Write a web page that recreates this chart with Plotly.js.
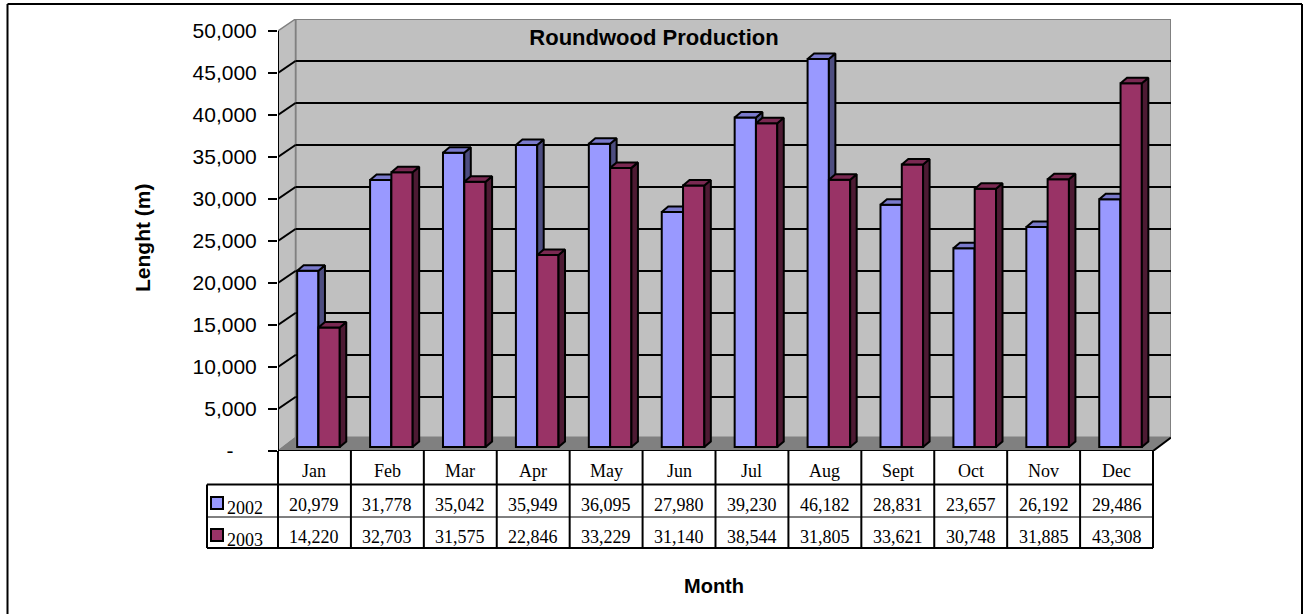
<!DOCTYPE html>
<html>
<head>
<meta charset="utf-8">
<script src="https://cdn.plot.ly/plotly-3.0.1.min.js"></script>
<style>html,body{margin:0;padding:0;background:#fff}#c{width:1304px;height:614px}</style>
</head>
<body>
<div id="c"></div>
<script>
const months = ["Jan","Feb","Mar","Apr","May","Jun","Jul","Aug","Sept","Oct","Nov","Dec"];
const series2002 = [20979,31778,35042,35949,36095,27980,39230,46182,28831,23657,26192,29486];
const series2003 = [14220,32703,31575,22846,33229,31140,38544,31805,33621,30748,31885,43308];
const yTicks = [0,5000,10000,15000,20000,25000,30000,35000,40000,45000,50000];
const yTickLabels = ["-&nbsp;&nbsp;&nbsp;&nbsp;","5,000","10,000","15,000","20,000","25,000","30,000","35,000","40,000","45,000","50,000"];

const W=1304,H=614,L=278,R=1171,T=19,B=451,CAT=875/12,UNIT=420/50000;
const xu=p=>p/CAT, yu=p=>p/UNIT;
const X=p=>(p-L)/(R-L), Y=p=>(B-p)/(B-T);
const wallDx=xu(17.5), wallDy=yu(12), barW=xu(21.3), barDx=xu(6.5), barDy=yu(5.5), baseX=xu(4), baseY=yu(4);
const xMax=(R-L)/CAT, yMax=(B-T)/UNIT;
const fmt=v=>v.toLocaleString('en-US');

function frontX(i,s){return i+0.5+baseX+(s===0?-barW/2:barW/2);}
function faces(vals,s,kind){
  const xs=[],ys=[];
  vals.forEach((v,i)=>{
    const l=frontX(i,s)-barW/2,r=l+barW,t=baseY+v;
    if(kind==='top'){xs.push(l,l+barDx,r+barDx,r,l,null);ys.push(t,t+barDy,t+barDy,t,t,null);}
    else{xs.push(r,r+barDx,r+barDx,r,r,null);ys.push(baseY,baseY+barDy,t+barDy,t,baseY,null);}
  });
  return {x:xs,y:ys};
}
function barTrace(vals,s,color,ax){
  return {type:'bar',name:String(2002+s),x:vals.map((_,i)=>frontX(i,s)),y:vals,base:vals.map(()=>baseY),width:vals.map(()=>barW),
    marker:{color:color,line:{color:'#000',width:2}},xaxis:'x'+ax,yaxis:'y'+ax,showlegend:false,hoverinfo:'skip'};
}
function faceTrace(vals,s,kind,color,ax){
  const f=faces(vals,s,kind);
  return {type:'scatter',mode:'lines',x:f.x,y:f.y,fill:'toself',fillcolor:color,line:{color:'#000',width:2},
    xaxis:'x'+ax,yaxis:'y'+ax,showlegend:false,hoverinfo:'skip'};
}
const traces=[
  barTrace(series2002,0,'#9999FF',''),
  faceTrace(series2002,0,'side','#4D4D80',''),
  faceTrace(series2002,0,'top','#7A7ACC',''),
  barTrace(series2003,1,'#993366','2'),
  faceTrace(series2003,1,'side','#4D1A33','2'),
  faceTrace(series2003,1,'top','#7A2952','2')
];

const shapes=[];
const seg=(x0,y0,x1,y1,c,w,ref)=>shapes.push({type:'line',layer:'below',xref:ref?'x':'paper',yref:ref?'y':'paper',x0,y0,x1,y1,line:{color:c,width:w}});
const poly=(d,fill,c,w)=>shapes.push({type:'path',layer:'below',xref:'x',yref:'y',path:d,fillcolor:fill,line:{color:c,width:w}});
const maxV=50000,wx=wallDx,wy=wallDy,floorY=yu(13.5),xEnd=months.length;
// walls and floor
poly(`M${wx},${floorY}L${wx},${maxV+wy}L${xMax},${maxV+wy}L${xMax},${floorY}Z`,'#C0C0C0','#808080',2);
poly(`M0,0L0,${maxV}L${wx},${maxV+wy}L${wx},${floorY}Z`,'#C0C0C0','#808080',1.5);
poly(`M0,0L${wx},${floorY}L${xMax},${floorY}L${xEnd},0Z`,'#808080','#808080',1);
yTicks.slice(1,-1).forEach(v=>{
  seg(wx,v+wy,xMax,v+wy,'#000',2,true);
  seg(0,v,wx,v+wy,'#000',2,true);
});
seg(xEnd,0,xMax,floorY,'#000',2,true);
seg(0,0,0,maxV,'#000',2,true);
seg(0,0,xEnd,0,'#000',2,true);
// outer frame
seg(X(7.5),Y(4),X(7.5),Y(614),'#000',2);
seg(X(7.5),Y(4),X(1302),Y(4),'#000',2);
seg(X(1302),Y(4),X(1302),Y(614),'#000',2);
// data table grid
const colX=i=>L+i*CAT;
months.forEach((_,i)=>{seg(X(colX(i)),Y(451),X(colX(i)),Y(548),'#000',2);});
seg(X(colX(12)),Y(451),X(colX(12)),Y(548),'#000',2);
seg(X(207),Y(484.5),X(colX(12)),Y(484.5),'#000',2);
seg(X(207),Y(517),X(colX(12)),Y(517),'#000',1);
seg(X(207),Y(548),X(colX(12)),Y(548),'#000',2);
seg(X(207),Y(484.5),X(207),Y(548),'#000',2);
// legend keys
[[497,'#9999FF'],[529,'#993366']].forEach(([y,c])=>shapes.push({type:'rect',layer:'below',xref:'paper',yref:'paper',x0:X(211),x1:X(223),y0:Y(y+12),y1:Y(y),fillcolor:c,line:{color:'#000',width:2}}));

const serif={family:'"Liberation Serif",serif',size:18,color:'#000'};
const sans='"Liberation Sans",Arial,sans-serif';
const anns=[];
const cell=(text,i,yp)=>anns.push({text,xref:'x',yref:'paper',x:i+0.5,y:Y(yp),showarrow:false,xanchor:'center',yanchor:'middle',font:serif});
months.forEach((m,i)=>{cell(m,i,471);cell(fmt(series2002[i]),i,505);cell(fmt(series2003[i]),i,537);});
[['2002',508],['2003',540]].forEach(([t,y])=>anns.push({text:t,xref:'paper',yref:'paper',x:X(225),y:Y(y),showarrow:false,xanchor:'left',yanchor:'middle',font:serif}));
anns.push({text:'<b>Month</b>',xref:'paper',yref:'paper',x:X(714),y:Y(586),showarrow:false,xanchor:'center',yanchor:'middle',font:{family:sans,size:20,color:'#000'}});
anns.push({text:'<b>Lenght (m)</b>',xref:'paper',yref:'paper',x:X(142),y:Y(238),textangle:-90,showarrow:false,xanchor:'center',yanchor:'middle',font:{family:sans,size:21,color:'#000'}});

const hidden={showgrid:false,zeroline:false,showline:false,showticklabels:false,ticks:''};
const layout={
  width:W,height:H,paper_bgcolor:'#fff',plot_bgcolor:'rgba(0,0,0,0)',showlegend:false,barmode:'overlay',
  margin:{l:L,r:W-R,t:T,b:H-B,pad:0},
  title:{text:'<b>Roundwood Production</b>',x:654/W,y:1-37/H,xanchor:'center',yanchor:'middle',font:{family:sans,size:22,color:'#000'}},
  xaxis:{...hidden,range:[0,xMax]},
  yaxis:{range:[0,yMax],tickmode:'array',tickvals:yTicks,ticktext:yTickLabels,ticks:'outside',ticklen:9,tickwidth:2,tickcolor:'#000',ticklabelstandoff:7,
    showgrid:false,zeroline:false,showline:false,tickfont:{family:sans,size:21,color:'#000'}},
  xaxis2:{...hidden,range:[0,xMax],overlaying:'x',anchor:'y2'},
  yaxis2:{...hidden,range:[0,yMax],overlaying:'y',anchor:'x2'},
  shapes,annotations:anns
};
Plotly.newPlot('c',traces,layout,{displayModeBar:false,staticPlot:true});
</script>
</body>
</html>
